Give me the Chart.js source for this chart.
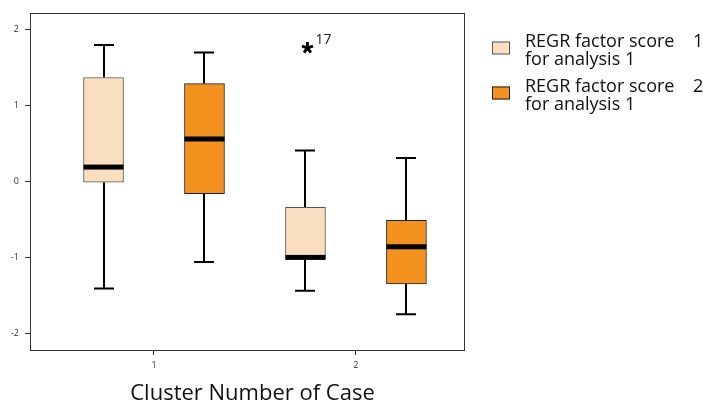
<!DOCTYPE html>
<html>
<head>
<meta charset="utf-8">
<script src="https://cdn.jsdelivr.net/npm/chart.js@4.4.1/dist/chart.umd.min.js"></script>
<style>
  html, body { margin: 0; padding: 0; background: #ffffff; }
  #wrap { width: 703px; height: 402px; }
</style>
</head>
<body>
<div id="wrap"><canvas id="boxChart"></canvas></div>
<script>
// ==========================================================
// DATA
// ==========================================================

const clusters = [1, 2];
const yTicks = [-2, -1, 0, 1, 2];
const xTitle = "Cluster Number of Case";

const seriesNames = ["REGR factor score", "REGR factor score"];
const seriesNumbers = ["1", "2"];
const seriesSubtitles = ["for analysis 1", "for analysis 1"];

// REGR factor score 1
const score1Min = [-1.41, -1.44];
const score1Q1 = [-0.01, -1.02];
const score1Median = [0.19, -1.00];
const score1Q3 = [1.37, -0.34];
const score1Max = [1.80, 0.41];

// REGR factor score 2
const score2Min = [-1.06, -1.75];
const score2Q1 = [-0.16, -1.35];
const score2Median = [0.56, -0.86];
const score2Q3 = [1.29, -0.51];
const score2Max = [1.70, 0.31];

// outliers: cluster index, series index, value, case label
const outlierCluster = [1];
const outlierSeries = [0];
const outlierValues = [1.76];
const outlierLabels = ["17"];

// ==========================================================
// STYLE
// ==========================================================

const FONT = "'Open Sans', sans-serif";
const COLORS = ["#f9dfbf", "#f3921f"];
const EDGES = ["#5a5550", "#222222"];
const SERIES_OFFSET = [-0.25, 0.25];

function boxData(q1, q3, offset) {
    return clusters.map((c, i) => ({ x: c + offset, y: [q1[i], q3[i]] }));
}

// ==========================================================
// WHISKERS, MEDIANS, OUTLIERS, FRAME, LEGEND
// ==========================================================

const boxExtras = {
    id: "boxExtras",

    beforeDatasetsDraw(chart) {
        const { ctx } = chart;
        const y = chart.scales.y;

        chart.data.datasets.forEach((ds, di) => {
            const meta = chart.getDatasetMeta(di);
            meta.data.forEach((bar, i) => {
                const x = Math.round(bar.x);
                const pMax = y.getPixelForValue(ds.stats.max[i]);
                const pMin = y.getPixelForValue(ds.stats.min[i]);
                const pQ3 = y.getPixelForValue(ds.stats.q3[i]);
                const pQ1 = y.getPixelForValue(ds.stats.q1[i]);

                ctx.save();
                ctx.strokeStyle = "#000";
                ctx.lineWidth = 2;
                ctx.beginPath();
                ctx.moveTo(x, pMax); ctx.lineTo(x, pQ3);
                ctx.moveTo(x, pQ1); ctx.lineTo(x, pMin);
                ctx.moveTo(x - 10, pMax); ctx.lineTo(x + 10, pMax);
                ctx.moveTo(x - 10, pMin); ctx.lineTo(x + 10, pMin);
                ctx.stroke();
                ctx.restore();
            });
        });
    },

    afterDatasetsDraw(chart) {
        const { ctx, chartArea } = chart;
        const y = chart.scales.y;

        // medians
        chart.data.datasets.forEach((ds, di) => {
            const meta = chart.getDatasetMeta(di);
            meta.data.forEach((bar, i) => {
                const pMed = y.getPixelForValue(ds.stats.median[i]);
                ctx.save();
                ctx.fillStyle = "#000";
                ctx.fillRect(bar.x - bar.width / 2, pMed - 2.5, bar.width, 5);
                ctx.restore();
            });
        });

        // outliers
        outlierValues.forEach((v, k) => {
            const bar = chart.getDatasetMeta(outlierSeries[k]).data[outlierCluster[k]];
            const cx = bar.x + 2;
            const cy = y.getPixelForValue(v);
            ctx.save();
            ctx.strokeStyle = "#000";
            ctx.lineWidth = 2.8;
            ctx.beginPath();
            for (let a = 0; a < 5; a++) {
                const ang = (-90 + a * 72) * Math.PI / 180;
                ctx.moveTo(cx, cy);
                ctx.lineTo(cx + 5.8 * Math.cos(ang), cy + 5.8 * Math.sin(ang));
            }
            ctx.stroke();
            ctx.fillStyle = "#222";
            ctx.font = "14px " + FONT;
            ctx.textBaseline = "alphabetic";
            ctx.textAlign = "left";
            ctx.fillText(outlierLabels[k], cx + 8, cy - 4);
            ctx.restore();
        });

        // frame
        ctx.save();
        ctx.strokeStyle = "#333";
        ctx.lineWidth = 1;
        ctx.strokeRect(chartArea.left + 0.5, chartArea.top + 0.5,
            chartArea.right - chartArea.left - 1, chartArea.bottom - chartArea.top);
        ctx.restore();

        // axis title
        ctx.save();
        ctx.fillStyle = "#111";
        ctx.font = "22px " + FONT;
        ctx.textAlign = "center";
        ctx.textBaseline = "alphabetic";
        ctx.fillText(xTitle, (chartArea.left + chartArea.right) / 2 + 5, 400);
        ctx.restore();

        // legend
        const lx = chartArea.right + 27;
        seriesNames.forEach((name, i) => {
            const top = 41.5 + i * 45;
            ctx.save();
            ctx.fillStyle = COLORS[i];
            ctx.strokeStyle = EDGES[i];
            ctx.lineWidth = 1;
            ctx.fillRect(lx, top, 18, 13);
            ctx.strokeRect(lx + 0.5, top + 0.5, 17, 12);
            ctx.fillStyle = "#111";
            ctx.font = "18px " + FONT;
            ctx.textBaseline = "alphabetic";
            ctx.textAlign = "left";
            ctx.fillText(name, lx + 33, top + 5.5);
            ctx.fillText(seriesNumbers[i], lx + 201, top + 5.5);
            ctx.fillText(seriesSubtitles[i], lx + 33, top + 23);
            ctx.restore();
        });
    }
};

// ==========================================================
// CHART
// ==========================================================

new Chart(document.getElementById("boxChart"), {
    type: "bar",
    data: {
        datasets: [
            {
                label: seriesNames[0] + " " + seriesNumbers[0],
                data: boxData(score1Q1, score1Q3, SERIES_OFFSET[0]),
                backgroundColor: COLORS[0],
                borderColor: EDGES[0],
                borderWidth: 1,
                borderSkipped: false,
                barThickness: 40,
                grouped: false,
                stats: { min: score1Min, q1: score1Q1, median: score1Median, q3: score1Q3, max: score1Max }
            },
            {
                label: seriesNames[1] + " " + seriesNumbers[1],
                data: boxData(score2Q1, score2Q3, SERIES_OFFSET[1]),
                backgroundColor: COLORS[1],
                borderColor: EDGES[1],
                borderWidth: 1,
                borderSkipped: false,
                barThickness: 40,
                grouped: false,
                stats: { min: score2Min, q1: score2Q1, median: score2Median, q3: score2Q3, max: score2Max }
            }
        ]
    },
    options: {
        responsive: true,
        maintainAspectRatio: false,
        animation: false,
        layout: { padding: { top: 13, right: 238, left: 0, bottom: 0 } },
        plugins: {
            legend: { display: false },
            tooltip: { enabled: false }
        },
        scales: {
            x: {
                type: "linear",
                min: 0.386,
                max: 2.54,
                offset: false,
                afterFit(scale) { scale.height = 52; },
                grid: { offset: false, drawOnChartArea: false, drawTicks: true, tickLength: 5, color: "#333" },
                border: { display: false },
                ticks: {
                    stepSize: 1,
                    includeBounds: false,
                    padding: 5,
                    color: "#333",
                    font: { family: FONT, size: 9 },
                    callback: v => clusters.includes(v) ? String(v) : ""
                }
            },
            y: {
                min: -2.22,
                max: 2.22,
                afterFit(scale) { scale.width = 30; },
                afterBuildTicks(scale) { scale.ticks = yTicks.map(v => ({ value: v })); },
                grid: { drawOnChartArea: false, drawTicks: true, tickLength: 5, color: "#333" },
                border: { display: false },
                ticks: {
                    padding: 6,
                    color: "#333",
                    font: { family: FONT, size: 9 }
                }
            }
        }
    },
    plugins: [boxExtras]
});
</script>
</body>
</html>
